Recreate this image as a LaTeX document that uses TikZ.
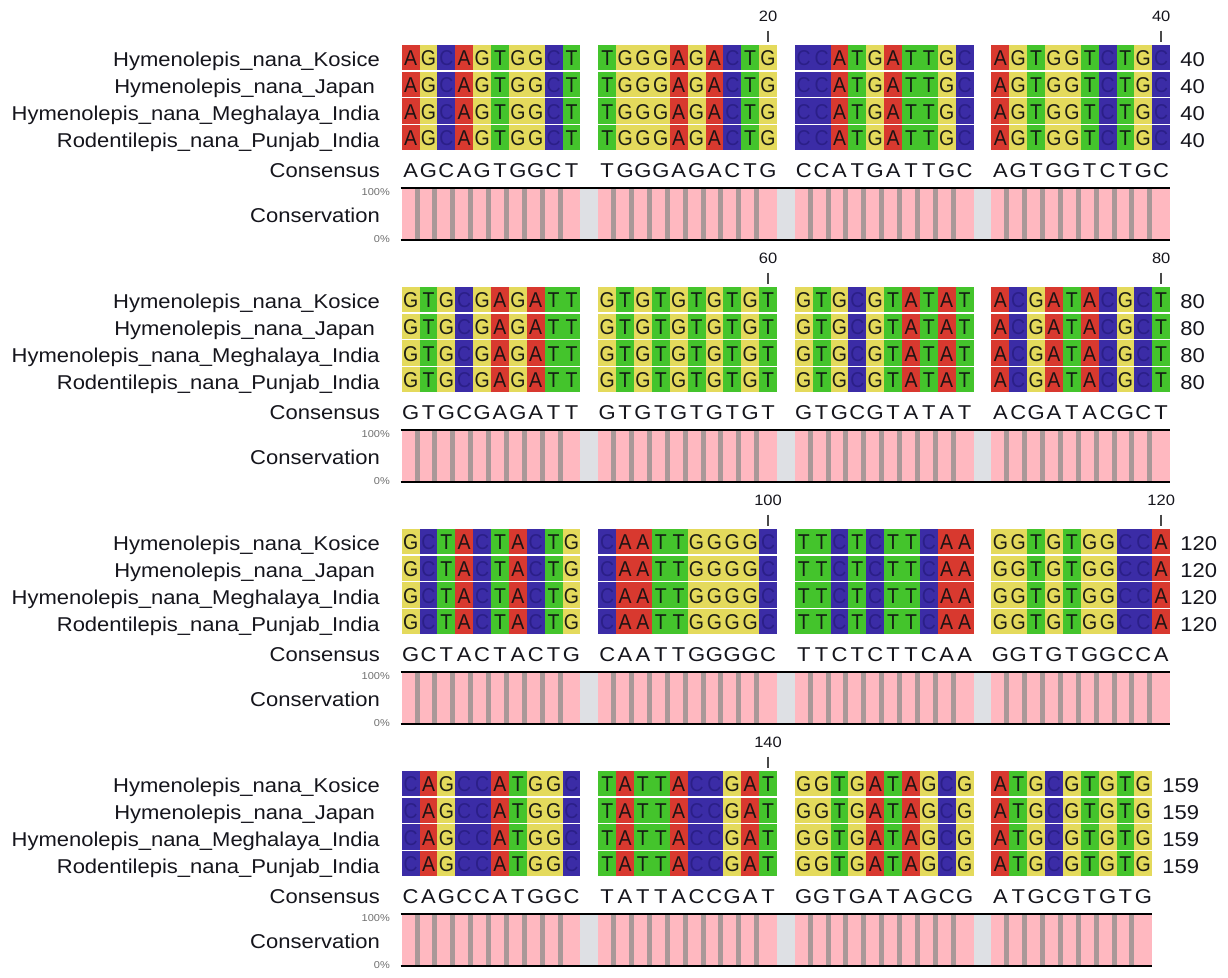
\documentclass[tikz,border=0pt]{standalone}
\usepackage{fontspec}
\usepackage{graphicx}
\setmainfont{Liberation Sans}
\definecolor{baseA}{HTML}{D8392F}
\definecolor{baseG}{HTML}{E4DA5C}
\definecolor{baseT}{HTML}{44C42C}
\definecolor{baseC}{HTML}{3B2CA6}
\definecolor{txtA}{HTML}{1E1414}
\definecolor{txtG}{HTML}{1E1E14}
\definecolor{txtT}{HTML}{141E14}
\definecolor{txtC}{HTML}{2B1F88}
\definecolor{consPink}{HTML}{FFB8C0}
\definecolor{consGrey}{HTML}{A99898}
\definecolor{gapGrey}{HTML}{DEE0E4}
\definecolor{tickGrey}{HTML}{4A4A4A}
\definecolor{pctGrey}{HTML}{707070}
\definecolor{labText}{HTML}{15151C}
\newcommand{\Pw}{17.87}
\newcommand{\Xo}{401.7}
\newcommand{\sx}[1]{\scalebox{1.1}[1]{#1}}
\newcommand{\sxy}[1]{\scalebox{1}[1.1]{#1}}
% #1 block index, #2 letters, #3 number of columns, #4 end number, #5 ticks col/label
\newcommand{\seqblock}[5]{%
  \pgfmathsetmacro\yo{45+242*#1}%
  \pgfmathtruncatemacro\lastk{#3-1}%
  \pgfmathsetmacro\xe{\Xo+(floor(\lastk/10)*11+mod(\lastk,10)+1)*\Pw}%
  % gap columns in conservation row
  \foreach \g in {1,2,3} {%
    \fill[gapGrey] (\Xo+\g*11*\Pw-\Pw,\yo+143) rectangle ++(\Pw,52);
  }%
  \foreach \ch [count=\k from 0] in {#2} {%
    \pgfmathsetmacro\cx{\Xo+(floor(\k/10)*11+mod(\k,10))*\Pw}%
    \pgfmathtruncatemacro\w{mod(\k,10)}%
    \foreach \r in {0,1,2,3} {%
      \pgfmathsetmacro\ct{\yo+26.7*\r}%
      \fill[fill=base\ch] (\cx,\ct) rectangle ++(\Pw,25.2);
      \node[cellL] (s#1-\r-\k) at (\cx+0.5*\Pw,\ct+20.8) {\sxy{\textcolor{txt\ch}{\ch}}};
    }%
    \node[consL] (cons#1-\k) at (\cx+0.5*\Pw,\yo+132.3) {\sx{\ch}};
    \fill[consPink] (\cx,\yo+143) rectangle ++(\Pw,52);
    \ifnum\w<9 \ifnum\k<\lastk
      \fill[consGrey] (\cx+\Pw-5,\yo+143) rectangle ++(5,52);
    \fi\fi
  }%
  \draw[consLine] (\Xo-1,\yo+143) -- (\xe,\yo+143);
  \draw[consLine] (\Xo-1,\yo+195) -- (\xe,\yo+195);
  % labels
  \node[lbl] (lk#1) at (380,\yo+21.7) {\sx{Hymenolepis\_nana\_Kosice}};
  \node[lbl] (lj#1) at (375,\yo+48.5) {\sx{Hymenolepis\_nana\_Japan}};
  \node[lbl] (lm#1) at (380,\yo+75.3) {\sx{Hymenolepis\_nana\_Meghalaya\_India}};
  \node[lbl] (lp#1) at (380,\yo+102.1) {\sx{Rodentilepis\_nana\_Punjab\_India}};
  \node[lbl] (lc#1) at (380,\yo+132.3) {\sx{Consensus}};
  \node[lbl] (lv#1) at (380,\yo+177.7) {\sx{Conservation}};
  \node[pct] (ph#1) at (390,\yo+150.7) {\sx{100\%}};
  \node[pct] (pz#1) at (390,\yo+197.3) {\sx{0\%}};
  % end numbers
  \foreach \r in {0,1,2,3} {%
    \node[numL] (n#1-\r) at (\xe+10,\yo+21.7+26.8*\r) {\sx{#4}};
  }%
  % ticks
  \foreach \tc/\tl in {#5} {%
    \pgfmathsetmacro\tx{\Xo+(floor(\tc/10)*11+mod(\tc,10)+0.5)*\Pw}%
    \node[tickL] (t#1-\tc) at (\tx,\yo-23.3) {\sx{\tl}};
    \draw[tickM] (\tx,\yo-14.3) -- (\tx,\yo-3.3);
  }%
}
\begin{document}
\begin{tikzpicture}[x=1pt,y=-1pt,
  cellL/.style={inner sep=0pt,anchor=base,font=\fontsize{19.5}{22}\selectfont},
  consL/.style={inner sep=0pt,anchor=base,text=labText,font=\fontsize{20}{22}\selectfont},
  lbl/.style={inner sep=0pt,anchor=base east,text=labText,font=\fontsize{20}{22}\selectfont},
  numL/.style={inner sep=0pt,anchor=base west,text=labText,font=\fontsize{20}{22}\selectfont},
  pct/.style={inner sep=0pt,anchor=base east,text=pctGrey,font=\fontsize{10}{11}\selectfont},
  tickL/.style={inner sep=0pt,anchor=base,text=labText,font=\fontsize{15}{16}\selectfont},
  tickM/.style={draw=tickGrey,line width=2pt},
  consLine/.style={draw=black,line width=1.8pt}
]
\fill[white] (0,0) rectangle (1228,977);
\useasboundingbox (0,0) rectangle (1228,977);
\seqblock{0}{A,G,C,A,G,T,G,G,C,T,T,G,G,G,A,G,A,C,T,G,C,C,A,T,G,A,T,T,G,C,A,G,T,G,G,T,C,T,G,C}{40}{40}{19/20,39/40}
\seqblock{1}{G,T,G,C,G,A,G,A,T,T,G,T,G,T,G,T,G,T,G,T,G,T,G,C,G,T,A,T,A,T,A,C,G,A,T,A,C,G,C,T}{40}{80}{19/60,39/80}
\seqblock{2}{G,C,T,A,C,T,A,C,T,G,C,A,A,T,T,G,G,G,G,C,T,T,C,T,C,T,T,C,A,A,G,G,T,G,T,G,G,C,C,A}{40}{120}{19/100,39/120}
\seqblock{3}{C,A,G,C,C,A,T,G,G,C,T,A,T,T,A,C,C,G,A,T,G,G,T,G,A,T,A,G,C,G,A,T,G,C,G,T,G,T,G}{39}{159}{19/140}
\end{tikzpicture}
\end{document}
